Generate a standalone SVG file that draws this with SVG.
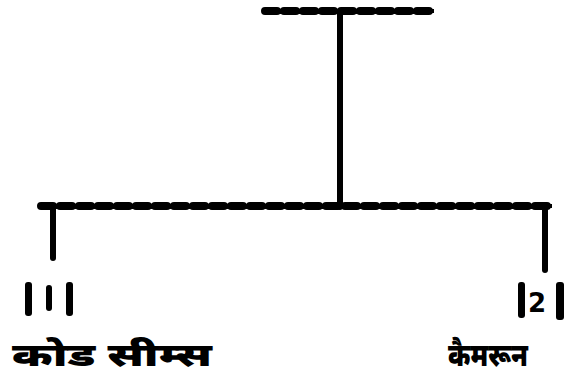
<svg xmlns="http://www.w3.org/2000/svg" width="575" height="379" viewBox="0 0 575 379">
<style>
.bar{stroke:#000;stroke-width:8;stroke-linecap:round;stroke-dasharray:12 7;fill:none}
.thin{stroke:#000;stroke-width:4;fill:none}
.v{stroke:#000;stroke-width:6;stroke-linecap:round;fill:none}
.num{font-family:"DejaVu Sans",sans-serif;font-weight:bold;font-size:26px;fill:#000}
.hi{font-family:"Noto Sans Devanagari","Noto Sans","DejaVu Sans",sans-serif;font-weight:900;font-size:32px;fill:#000}
</style>
<rect width="575" height="379" fill="#fff"/>
<g id="root">
<line class="thin" x1="264" y1="11" x2="434" y2="11"/>
<line class="bar" x1="265" y1="11" x2="434" y2="11"/>
</g>
<g id="connectors">
<line class="v" x1="340" y1="12" x2="340" y2="207"/>
<line class="thin" x1="40" y1="206" x2="552" y2="206"/>
<line class="bar" x1="41" y1="206" x2="552" y2="206"/>
<line class="v" x1="53" y1="208" x2="53" y2="258"/>
<line class="v" x1="545" y1="208" x2="545" y2="270"/>
</g>
<g id="node1">
<rect x="25" y="282" width="7" height="34" rx="3"/>
<rect x="46" y="285" width="6" height="26" rx="3"/>
<rect x="66" y="282" width="7" height="34" rx="3"/>
<text class="hi" x="12" y="366" textLength="200" lengthAdjust="spacingAndGlyphs">कोड सीम्स</text>
</g>
<g id="node2">
<rect x="518" y="282" width="7" height="36" rx="3"/>
<text class="num" x="528" y="312">2</text>
<rect x="556" y="282" width="8" height="38" rx="3"/>
<text class="hi" x="448" y="366" textLength="80" lengthAdjust="spacingAndGlyphs">कैमरून</text>
</g>
</svg>
